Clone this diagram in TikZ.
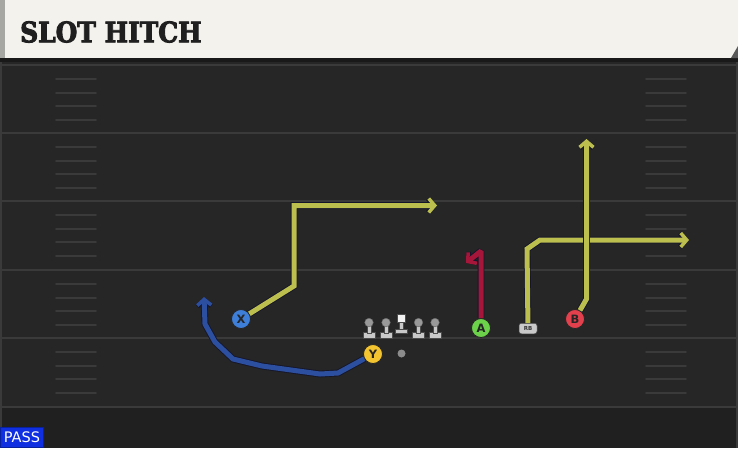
\documentclass[tikz,border=0pt]{standalone}
\usepackage{fontspec}
\setmainfont{DejaVu Sans}
\newfontfamily\titlefont{DejaVu Serif}[BoldFeatures={FakeStretch=0.88, FakeBold=3}]
\usepackage{tikz}
\usetikzlibrary{arrows.meta}
\definecolor{fieldgray}{HTML}{262626}
\definecolor{fielddark}{HTML}{202020}
\definecolor{yardgray}{HTML}{3A3A3A}
\definecolor{titlecream}{HTML}{F4F2EC}
\definecolor{stripgray}{HTML}{A6A7A3}
\definecolor{routeedge}{HTML}{16162A}
\definecolor{routeyellow}{HTML}{BCBE4E}
\definecolor{routeblue}{HTML}{2C4F9F}
\definecolor{routered}{HTML}{A5163A}
\definecolor{xblue}{HTML}{3D7FD9}
\definecolor{yyellow}{HTML}{F3C42F}
\definecolor{agreen}{HTML}{6CD24A}
\definecolor{bred}{HTML}{E2404C}
\definecolor{linegray}{HTML}{C9C9C9}
\definecolor{passblue}{HTML}{0F2FE0}
\tikzstyle{yardline} = [draw=yardgray, line width=2pt]
\tikzstyle{hash} = [draw=yardgray, line width=1.6pt]
\tikzstyle{titletext} = [font=\titlefont\bfseries\fontsize{28.3}{30}\selectfont,
    text=black!88, inner sep=0pt]
\tikzstyle{player} = [circle, draw=black!85, line width=0.8pt, minimum size=19pt,
    inner sep=0pt, font=\bfseries\fontsize{11.5}{11.5}\selectfont, text=black!85]
\tikzstyle{route} = [line width=5pt, line join=miter, miter limit=1.5,
    preaction={draw=routeedge, line width=6.8pt, miter limit=1.5},
    -{Straight Barb[length=6pt, width=14pt, line width=0pt 0.7]}]
\tikzstyle{lineman} = [fill=linegray, draw=black!70, line width=0.5pt]

\begin{document}
\begin{tikzpicture}[x=1pt, y=-1pt]
    \useasboundingbox (0,0) rectangle (738,448);
    % field
    \fill[fieldgray] (0,0) rectangle (738,448);
    \fill[fielddark] (0,407) rectangle (738,448);
    \draw[yardgray, line width=1.2pt] (1,62) -- (1,448);
    \draw[yardgray, line width=1.2pt] (737,62) -- (737,448);
    \foreach \yy in {65,133,201,270,338,407}
        \draw[yardline] (0,\yy) -- (738,\yy);
    \foreach \tt in {65,133,201,270,338}
        \foreach \oo in {14,28,41,55} {
            \draw[hash, line cap=round] (56,{\tt+\oo}) -- (96,{\tt+\oo});
            \draw[hash, line cap=round] (646,{\tt+\oo}) -- (686,{\tt+\oo});
        }
    % title band
    \fill[black!90] (0,0) rectangle (738,62);
    \fill[titlecream] (0,0) rectangle (738,58);
    \fill[stripgray] (0,0) rectangle (5,58);
    \fill[black!65] (731,58) -- (738,58) -- (738,46) -- cycle;
    \node[titletext, anchor=base west] (title) at (20,42.3) {SLOT HITCH};

    % players
    \node[player, fill=xblue] (X) at (241,319) {X};
    \node[player, fill=yyellow] (Y) at (373,354) {Y};
    \node[player, fill=agreen] (A) at (481,328) {A};
    \node[player, fill=bred] (B) at (575,319) {B};
    \node[fill=linegray, draw=black!70, line width=0.5pt, rounded corners=2.5pt,
        minimum width=18pt, minimum height=10.5pt, inner sep=0pt,
        font=\bfseries\fontsize{5.5}{5.5}\selectfont, text=black!80] (RB) at (528,328.5) {RB};
    \node[circle, fill=black!45, minimum size=8pt, inner sep=0pt] (dot) at (401.5,353.5) {};

    % line
    \foreach \cx in {369,386,418.5,435} {
        \fill[lineman] ({\cx-5.8},332.5) rectangle ({\cx+5.8},337.8);
        \fill[lineman] ({\cx-2.2},324) rectangle ({\cx+2.2},333);
        \fill[black!40, draw=black!60, line width=0.4pt] (\cx,322.5) circle (4.3pt);
    }
    \fill[lineman] (395,329) rectangle (407,333.5);
    \fill[lineman] (398.8,321) rectangle (403.2,329.5);
    \fill[white!95!black, draw=black!70, line width=0.5pt] (397,314) rectangle (405,322);

    % routes
    \coordinate (xr1) at (294,286);
    \coordinate (xr2) at (294,205.5);
    \coordinate (xr3) at (437,205.5);
    \draw[route, routeyellow] (X) -- (xr1) -- (xr2) -- (xr3);

    \coordinate (yr1) at (338,373);
    \coordinate (yr2) at (320,374);
    \coordinate (yr3) at (262,366);
    \coordinate (yr4) at (233,359);
    \coordinate (yr5) at (215,342);
    \coordinate (yr6) at (205,324);
    \coordinate (yr7) at (204,297);
    \draw[route, routeblue] (Y) -- (yr1) -- (yr2) -- (yr3) -- (yr4)
        -- (yr5) -- (yr6) -- (yr7);

    \coordinate (ar1) at (481,251);
    \coordinate (ar2) at (466,263);
    \draw[route, routered] (A) -- (ar1) -- (ar2);

    \coordinate (rr1) at (527,249);
    \coordinate (rr2) at (540,240);
    \coordinate (rr3) at (689,240);
    \draw[route, routeyellow] (RB) -- (rr1) -- (rr2) -- (rr3);

    \coordinate (br1) at (586.5,299);
    \coordinate (br2) at (586.5,139);
    \draw[route, routeyellow] (B) -- (br1) -- (br2);

    % play type
    \node[fill=passblue, draw=passblue!70!black, line width=0.6pt, text=white,
        font=\fontsize{14.5}{14.5}\selectfont, inner xsep=3.5pt, inner ysep=0pt,
        minimum height=20.5pt, anchor=south west] (pass) at (0,448) {PASS};
\end{tikzpicture}
\end{document}
